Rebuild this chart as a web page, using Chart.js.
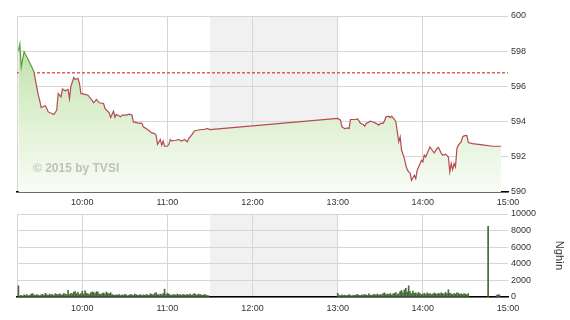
<!DOCTYPE html>
<html>
<head>
<meta charset="utf-8">
<script src="https://cdn.jsdelivr.net/npm/chart.js@4/dist/chart.umd.min.js"></script>
<style>
  html, body { margin: 0; padding: 0; background: #fff; }
  #wrap { position: relative; width: 570px; height: 320px; }
  canvas { position: absolute; left: 0; }
  #priceChart { top: 0; }
  #volChart { top: 200px; }
</style>
</head>
<body>
<div id="wrap">
  <canvas id="priceChart" width="570" height="212"></canvas>
  <canvas id="volChart" width="570" height="120"></canvas>
</div>
<script>
// ---- data ----
const priceTimes = [
  '09:15','09:16','09:17','09:19','09:22','09:25','09:26','09:27','09:29','09:30',
  '09:31','09:34','09:35','09:36','09:40','09:42','09:43','09:45','09:46','09:48',
  '09:50','09:51','09:52','09:54','09:55','09:57','09:58','09:59','10:02','10:04',
  '10:07','10:08','10:10','10:12','10:15','10:16','10:19','10:20','10:22','10:23',
  '10:24','10:27','10:28','10:31','10:33','10:35','10:36','10:39','10:42','10:43',
  '10:46','10:48','10:49','10:51','10:52','10:53','10:55','10:56','10:57','10:58',
  '11:00','11:01','11:02','11:03','11:06','11:08','11:10','11:12','11:14','11:15',
  '11:17','11:19','11:21','11:24','11:26','11:28','11:30',
  '13:00','13:02','13:03','13:05','13:07','13:08','13:09','13:12','13:14','13:15',
  '13:16','13:18','13:19','13:20','13:22','13:23','13:25','13:27','13:29','13:30',
  '13:32','13:33','13:34','13:36','13:37','13:38','13:40','13:41','13:42','13:43',
  '13:44','13:45','13:47','13:48','13:49','13:50','13:51','13:52','13:54','13:55',
  '13:56','13:57','13:58','13:59','14:00','14:01','14:02','14:03','14:05','14:07',
  '14:08','14:10','14:11','14:13','14:14','14:16','14:18','14:19','14:20','14:21',
  '14:22','14:23','14:24','14:25','14:27','14:28','14:29','14:31','14:32','14:35',
  '14:42','14:49','14:55'
];
const priceValues = [
  598.03,598.40,597.10,597.97,597.50,597.00,596.80,596.36,595.50,595.20,
  594.80,594.90,594.75,594.55,594.40,594.65,595.60,595.40,595.85,595.75,
  595.83,595.30,596.00,596.50,596.40,596.45,596.17,595.60,595.55,595.50,
  595.20,595.07,595.26,595.07,595.03,594.75,594.50,594.23,594.60,594.25,
  594.40,594.27,594.37,594.37,594.42,594.37,593.98,593.93,593.90,593.70,
  593.55,593.42,593.36,593.32,593.23,592.71,592.98,592.66,592.90,592.60,
  592.60,592.71,592.98,592.90,592.94,592.98,592.90,592.98,592.85,593.04,
  593.23,593.47,593.51,593.55,593.55,593.61,593.55,
  594.18,594.08,593.70,593.60,593.64,593.60,594.12,594.12,594.15,594.04,
  593.90,593.84,593.74,593.90,593.98,594.02,593.98,593.90,593.80,593.90,
  593.90,594.04,594.27,594.31,594.23,594.31,594.12,593.98,593.42,592.85,
  593.13,592.37,591.90,591.52,591.27,591.14,591.08,590.67,590.95,590.76,
  591.24,591.42,591.60,591.80,591.71,592.09,591.99,592.19,592.56,592.33,
  592.22,592.47,592.53,592.19,592.09,592.15,591.99,591.14,591.62,591.27,
  591.62,591.42,592.47,592.66,592.85,593.13,593.19,593.21,592.81,592.75,
  592.68,592.60,592.60
];
const refPrice = 596.77;

// volume (nghìn), one bar per minute
const amVolStart = '09:15';
const amVolumes = [
  1350,
  150,200,120,250,180,300,150,200,350,
  400,250,180,300,220,150,260,320,200,450,
  280,200,350,250,300,180,400,320,260,380,
  300,250,420,350,280,800,300,450,380,600,
  650,400,550,300,420,700,350,750,450,380,
  300,500,620,550,400,650,580,350,300,420,
  500,350,600,450,380,520,300,250,200,280,
  220,300,180,250,200,320,260,150,220,300,
  250,180,350,280,200,240,300,180,260,200,
  300,250,200,380,320,250,420,520,300,250,
  350,280,400,950,300,450,350,250,200,300,
  280,220,350,250,300,200,320,260,220,300,
  250,350,200,300,420,280,220,350,300,250,
  200,300,250,180,150
];
const pmVolStart = '13:00';
const pmVolumes = [
  450,200,150,250,180,220,150,200,280,180,
  150,220,180,250,300,200,180,250,220,300,
  250,180,380,220,200,280,300,250,350,220,
  300,250,400,500,280,350,300,420,250,380,
  450,520,300,400,650,780,500,850,1050,600,
  1350,650,400,720,450,500,380,550,420,300,
  350,450,300,500,380,420,300,350,480,400,
  320,450,380,500,420,350,550,400,880,450,
  380,300,420,350,500,450,320,380,300,420,
  350,280,400
];
const closeVolTimes = ['14:46','14:52','14:53','14:54'];
const closeVolumes = [8500, 200, 300, 250];

const xMin = '09:14';
const xMax = '15:00';
const hourTicks = ['10:00','11:00','12:00','13:00','14:00','15:00'];
const lunchBreak = ['11:30','13:00'];
const priceTicks = [590, 592, 594, 596, 598, 600];
const volTicks = [0, 2000, 4000, 6000, 8000, 10000];

// ---- helpers ----
function toMin(s) {
  const [h, m] = s.split(':').map(Number);
  return h * 60 + m;
}
function fmtTime(v) {
  const h = Math.floor(v / 60), m = v % 60;
  return h + ':' + String(m).padStart(2, '0');
}

const X_MIN = toMin(xMin), X_MAX = toMin(xMax);
const tickVals = [X_MIN].concat(hourTicks.map(toMin));

const FONT = "'Liberation Sans', Arial, sans-serif";
Chart.defaults.font.family = FONT;
Chart.defaults.font.size = 9;
Chart.defaults.color = '#333';

const GRID = '#d6d6d6';

// gray lunch-break band, drawn under the grid
const bandPlugin = {
  id: 'band',
  beforeDraw(chart) {
    const { ctx, chartArea, scales } = chart;
    const x1 = scales.x.getPixelForValue(toMin(lunchBreak[0]));
    const x2 = scales.x.getPixelForValue(toMin(lunchBreak[1]));
    ctx.save();
    ctx.fillStyle = '#f1f1f1';
    ctx.fillRect(x1, chartArea.top, x2 - x1, chartArea.bottom - chartArea.top);
    ctx.restore();
  }
};

const watermarkPlugin = {
  id: 'watermark',
  afterDatasetsDraw(chart) {
    const { ctx, chartArea } = chart;
    ctx.save();
    ctx.font = "bold 12px " + FONT;
    ctx.fillStyle = 'rgba(150,150,150,0.55)';
    ctx.textBaseline = 'alphabetic';
    ctx.fillText('\u00A9 2015 by TVSI', chartArea.left + 16, chartArea.top + 156);
    ctx.restore();
  }
};

function xScale(labelPad) {
  return {
    type: 'linear',
    min: X_MIN,
    max: X_MAX,
    offset: false,
    afterBuildTicks: s => { s.ticks = tickVals.map(v => ({ value: v })); },
    ticks: {
      autoSkip: false,
      maxRotation: 0,
      padding: labelPad,
      color: '#333',
      callback: v => (v === X_MIN ? '' : fmtTime(v))
    },
    grid: {
      offset: false,
      drawTicks: false,
      color: c => (c.tick && c.tick.value === X_MAX ? 'rgba(0,0,0,0)' : GRID)
    },
    border: { color: '#000', width: 1.5 }
  };
}

// ---- price chart ----
const pricePoints = priceTimes.map((t, i) => ({ x: toMin(t), y: priceValues[i] }));

new Chart(document.getElementById('priceChart'), {
  type: 'line',
  data: {
    datasets: [
      {
        data: pricePoints,
        borderWidth: 1.2,
        pointRadius: 0,
        tension: 0,
        fill: 'start',
        backgroundColor: ctx => {
          const area = ctx.chart.chartArea;
          if (!area) return 'rgba(200,230,180,0.6)';
          const g = ctx.chart.ctx.createLinearGradient(0, area.top, 0, area.bottom);
          g.addColorStop(0, '#b2da97');
          g.addColorStop(0.5, '#d9eecb');
          g.addColorStop(1, '#f9fcf6');
          return g;
        },
        segment: {
          borderColor: c => (c.p0.parsed.y >= refPrice && c.p1.parsed.y >= refPrice ? '#5c9e3a' : '#b44a52')
        },
        borderColor: '#b44a52'
      },
      {
        data: [{ x: X_MIN, y: refPrice }, { x: X_MAX, y: refPrice }],
        borderColor: '#cc1111',
        borderWidth: 1,
        borderDash: [3, 2],
        pointRadius: 0,
        fill: false
      }
    ]
  },
  options: {
    responsive: false,
    animation: false,
    events: [],
    layout: { padding: { left: 17, top: 16, right: 0, bottom: 0 } },
    plugins: { legend: { display: false }, tooltip: { enabled: false } },
    scales: {
      x: Object.assign(xScale(5), { afterFit: s => { s.height = 20; } }),
      y: {
        position: 'right',
        min: 590,
        max: 600,
        afterBuildTicks: s => { s.ticks = priceTicks.map(v => ({ value: v })); },
        afterFit: s => { s.width = 62; },
        ticks: { padding: 3, color: '#333', callback: v => String(v) },
        grid: { drawTicks: false, color: GRID },
        border: { display: false }
      }
    }
  },
  plugins: [bandPlugin, watermarkPlugin]
});

// ---- volume chart ----
const volPoints = [];
amVolumes.forEach((v, i) => volPoints.push({ x: toMin(amVolStart) + i, y: v }));
pmVolumes.forEach((v, i) => volPoints.push({ x: toMin(pmVolStart) + i, y: v }));
closeVolTimes.forEach((t, i) => volPoints.push({ x: toMin(t), y: closeVolumes[i] }));

new Chart(document.getElementById('volChart'), {
  type: 'bar',
  data: {
    datasets: [{
      data: volPoints,
      backgroundColor: '#466b3b',
      barThickness: 1,
      borderWidth: 0
    }]
  },
  options: {
    responsive: false,
    animation: false,
    events: [],
    layout: { padding: { left: 17, top: 14, right: 0, bottom: 0 } },
    plugins: { legend: { display: false }, tooltip: { enabled: false } },
    scales: {
      x: Object.assign(xScale(6), { afterFit: s => { s.height = 23; } }),
      y: {
        position: 'right',
        min: 0,
        max: 10000,
        afterBuildTicks: s => { s.ticks = volTicks.map(v => ({ value: v })); },
        afterFit: s => { s.width = 62; },
        ticks: { padding: 3, color: '#333', callback: v => String(v) },
        grid: { drawTicks: false, color: GRID },
        border: { display: false },
        title: {
          display: true,
          text: 'Nghìn',
          color: '#333',
          font: { size: 11 },
          padding: { top: 4, bottom: 0 }
        }
      }
    }
  },
  plugins: [bandPlugin]
});
</script>
</body>
</html>
